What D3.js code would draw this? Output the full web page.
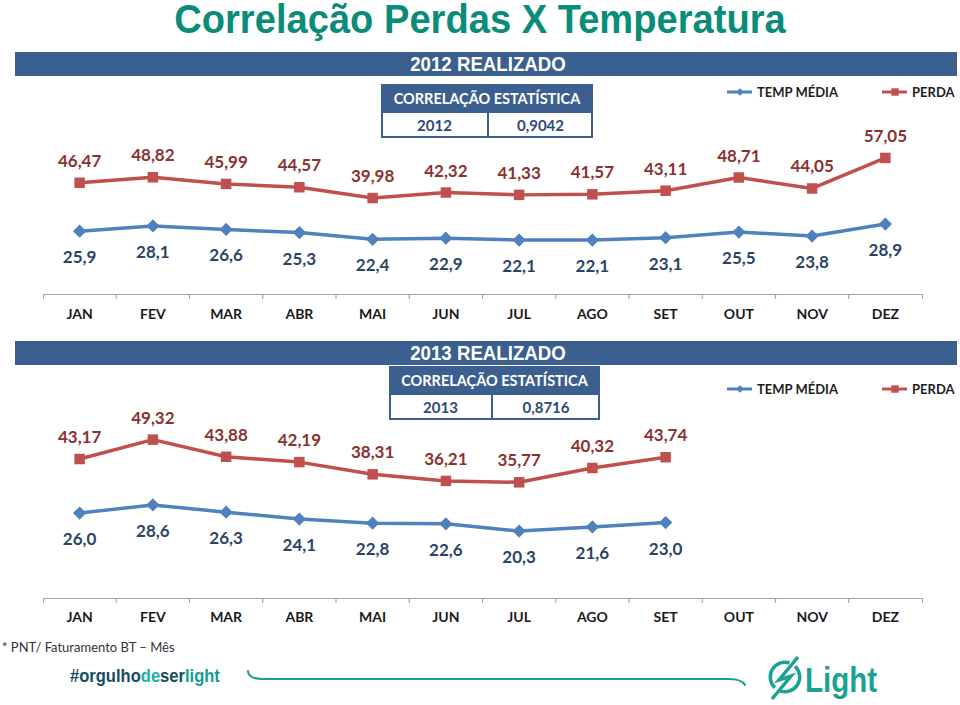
<!DOCTYPE html>
<html>
<head>
<meta charset="utf-8">
<script src="https://cdn.jsdelivr.net/npm/d3@7"></script>
<style>
  html, body { margin: 0; padding: 0; background: #ffffff; }
  svg { display: block; }
</style>
</head>
<body>
<svg id="chart" width="960" height="705"></svg>
<script>
// ---------- DATA ----------
const months = ["JAN","FEV","MAR","ABR","MAI","JUN","JUL","AGO","SET","OUT","NOV","DEZ"];
const perda2012 = [46.47, 48.82, 45.99, 44.57, 39.98, 42.32, 41.33, 41.57, 43.11, 48.71, 44.05, 57.05];
const temp2012  = [25.9, 28.1, 26.6, 25.3, 22.4, 22.9, 22.1, 22.1, 23.1, 25.5, 23.8, 28.9];
const perda2013 = [43.17, 49.32, 43.88, 42.19, 38.31, 36.21, 35.77, 40.32, 43.74];
const temp2013  = [26.0, 28.6, 26.3, 24.1, 22.8, 22.6, 20.3, 21.6, 23.0];
const corr2012 = "0,9042";
const corr2013 = "0,8716";
const seriesNames = ["TEMP MÉDIA", "PERDA"];

// ---------- STYLE ----------
const RED = "#c0504d", BLUE = "#4f81bd";
const RED_TXT = "#8a3230", BLUE_TXT = "#2a4468";
const BAR = "#3b5f8e";
const TEAL = "#0a8c79";
const LABEL_FONT = "Lato, 'Open Sans', sans-serif";
const ARIAL = "'Liberation Sans', Arial, sans-serif";

const svg = d3.select("#chart");

// Title (condensed look via horizontal scale)
svg.append("text")
  .attr("transform", "translate(480,33) scale(0.93,1)")
  .attr("text-anchor", "middle")
  .attr("font-family", ARIAL)
  .attr("font-weight", "bold")
  .attr("font-size", 41)
  .attr("fill", TEAL)
  .text("Correlação Perdas X Temperatura");

const fmt = (v, d) => v.toFixed(d).replace(".", ",");

function panel(opts) {
  const g = svg.append("g");
  // header bar
  g.append("rect").attr("x", 15).attr("y", opts.barY).attr("width", 942).attr("height", 24).attr("fill", BAR);
  g.append("text")
    .attr("transform", `translate(488,${opts.barY + 19}) scale(0.89,1)`)
    .attr("text-anchor", "middle")
    .attr("font-family", ARIAL)
    .attr("font-weight", "bold").attr("font-size", 21).attr("fill", "#ffffff")
    .text(opts.year + " REALIZADO");

  // correlation table
  const t = opts.table;
  g.append("rect").attr("x", t.x).attr("y", t.y).attr("width", t.w).attr("height", 28).attr("fill", BAR);
  g.append("rect").attr("x", t.x + 1).attr("y", t.y + 28).attr("width", t.w - 2).attr("height", 25)
    .attr("fill", "#fff").attr("stroke", BAR).attr("stroke-width", 2);
  g.append("line").attr("x1", t.div).attr("x2", t.div).attr("y1", t.y + 28).attr("y2", t.y + 53)
    .attr("stroke", BAR).attr("stroke-width", 2);
  g.append("text").attr("x", t.x + t.w / 2).attr("y", t.y + 20)
    .attr("text-anchor", "middle").attr("font-family", LABEL_FONT).attr("font-weight", "bold")
    .attr("font-size", 14.5).attr("fill", "#fff").text("CORRELAÇÃO ESTATÍSTICA");
  g.append("text").attr("x", (t.x + t.div) / 2).attr("y", t.y + 47)
    .attr("text-anchor", "middle").attr("font-family", LABEL_FONT).attr("font-weight", "bold")
    .attr("font-size", 15).attr("fill", "#2c4a78").text(opts.year);
  g.append("text").attr("x", (t.div + t.x + t.w) / 2).attr("y", t.y + 47)
    .attr("text-anchor", "middle").attr("font-family", LABEL_FONT).attr("font-weight", "bold")
    .attr("font-size", 15).attr("fill", "#2c4a78").text(opts.corr);

  // legend
  const ly = opts.legendY;
  const legend = [
    {name: seriesNames[0], color: BLUE, x: 727, sym: "diamond"},
    {name: seriesNames[1], color: RED, x: 882, sym: "square"}
  ];
  legend.forEach(l => {
    g.append("line").attr("x1", l.x).attr("x2", l.x + 25).attr("y1", ly).attr("y2", ly)
      .attr("stroke", l.color).attr("stroke-width", 3);
    g.append("path").attr("d", d3.symbol(d3.symbolSquare, l.sym === "diamond" ? 30 : 55)())
      .attr("transform", `translate(${l.x + 13},${ly}) rotate(${l.sym === "diamond" ? 45 : 0})`)
      .attr("fill", l.color);
    g.append("text").attr("x", l.x + 30).attr("y", ly + 5)
      .attr("font-family", LABEL_FONT).attr("font-weight", "bold").attr("font-size", 13)
      .attr("fill", "#1e1e1e").text(l.name);
  });

  // scales
  const x = d3.scaleBand().domain(months).range([43, 922]).paddingInner(0).paddingOuter(0);
  const y = d3.scaleLinear().domain([0, opts.yMax]).range([opts.zeroY, opts.zeroY - opts.yMax * opts.k]);
  const cx = m => x(m) + x.bandwidth() / 2;

  // axis
  const axis = d3.axisBottom(x).tickSizeInner(0).tickSizeOuter(5).tickPadding(0);
  const ag = g.append("g").attr("transform", `translate(0,${opts.axisY})`).call(axis);
  ag.select(".domain").attr("stroke", "#a6a6a6").attr("stroke-width", 1.2);
  ag.selectAll(".tick text")
    .attr("dy", 0).attr("y", opts.labelY - opts.axisY)
    .attr("font-family", LABEL_FONT).attr("font-weight", "bold").attr("font-size", 14)
    .attr("fill", "#1a1a1a");
  ag.selectAll(".boundary").data(months.slice(1)).enter().append("line")
    .attr("class", "boundary")
    .attr("x1", d => x(d)).attr("x2", d => x(d)).attr("y1", 0).attr("y2", 5)
    .attr("stroke", "#a6a6a6").attr("stroke-width", 1.2);

  const line = d3.line().x((d, i) => cx(months[i])).y(d => y(d));

  const perda = opts.perda, temp = opts.temp;
  g.append("path").datum(perda).attr("d", line).attr("fill", "none")
    .attr("stroke", RED).attr("stroke-width", 3.5).attr("stroke-linejoin", "round");
  g.append("path").datum(temp).attr("d", line).attr("fill", "none")
    .attr("stroke", BLUE).attr("stroke-width", 3.5).attr("stroke-linejoin", "round");

  g.selectAll(".sq").data(perda).enter().append("path")
    .attr("d", d3.symbol(d3.symbolSquare, 110)())
    .attr("transform", (d, i) => `translate(${cx(months[i])},${y(d)})`)
    .attr("fill", RED);
  g.selectAll(".dm").data(temp).enter().append("path")
    .attr("d", d3.symbol(d3.symbolSquare, 88)())
    .attr("transform", (d, i) => `translate(${cx(months[i])},${y(d)}) rotate(45)`)
    .attr("fill", BLUE);

  g.selectAll(".pl").data(perda).enter().append("text")
    .attr("x", (d, i) => cx(months[i])).attr("y", d => y(d) - 16)
    .attr("text-anchor", "middle").attr("font-family", LABEL_FONT).attr("font-weight", "bold")
    .attr("font-size", 17).attr("fill", RED_TXT).text(d => fmt(d, 2));
  g.selectAll(".tl").data(temp).enter().append("text")
    .attr("x", (d, i) => cx(months[i])).attr("y", d => y(d) + 32)
    .attr("text-anchor", "middle").attr("font-family", LABEL_FONT).attr("font-weight", "bold")
    .attr("font-size", 17).attr("fill", BLUE_TXT).text(d => fmt(d, 1));
}

panel({
  year: "2012", corr: corr2012, perda: perda2012, temp: temp2012,
  barY: 52, table: {x: 381, y: 84, w: 212, div: 488}, legendY: 92,
  yMax: 60, zeroY: 292, k: 2.35, axisY: 294, labelY: 319
});
panel({
  year: "2013", corr: corr2013, perda: perda2013, temp: temp2013,
  barY: 341, table: {x: 389, y: 366, w: 211, div: 492}, legendY: 389,
  yMax: 50, zeroY: 595, k: 3.15, axisY: 598, labelY: 622
});

// ---------- FOOTER ----------
svg.append("text").attr("x", 2).attr("y", 652)
  .attr("font-family", LABEL_FONT).attr("font-size", 13)
  .attr("fill", "#333").text("* PNT/ Faturamento BT – Mês");

const tag = svg.append("text")
  .attr("transform", "translate(70,682) scale(0.92,1)")
  .attr("font-family", ARIAL).attr("font-weight", "bold")
  .attr("font-size", 18);
[["#orgulho", "#124e5e"], ["de", "#1fb0a2"], ["ser", "#124e5e"], ["light", "#139d90"]]
  .forEach(([s, c]) => tag.append("tspan").attr("fill", c).text(s));

svg.append("path")
  .attr("d", "M248,671 C248,677 253,679 263,679 L728,679 C737,679 743,681 745,685")
  .attr("fill", "none").attr("stroke", "#1a9e92").attr("stroke-width", 2).attr("stroke-linecap", "round");

// Light logo
const logo = svg.append("g");
const arc = d3.arc().innerRadius(13).outerRadius(16.5);
logo.append("path").attr("d", arc({startAngle: 0.75, endAngle: 3.5}))
  .attr("transform", "translate(785,677)").attr("fill", "#1aa393");
logo.append("path").attr("d", arc({startAngle: 3.9, endAngle: 6.6}))
  .attr("transform", "translate(785,677)").attr("fill", "#1aa393");
logo.append("path").attr("d", "M798,657 L779,680 L791,676 L772,699")
  .attr("fill", "none").attr("stroke", "#1aa393").attr("stroke-width", 3.5).attr("stroke-linejoin", "miter");
svg.append("text")
  .attr("transform", "translate(805,692) scale(0.82,1)")
  .attr("font-family", ARIAL).attr("font-weight", "bold")
  .attr("font-size", 36).attr("fill", "#1aa393").text("Light");
</script>
</body>
</html>
